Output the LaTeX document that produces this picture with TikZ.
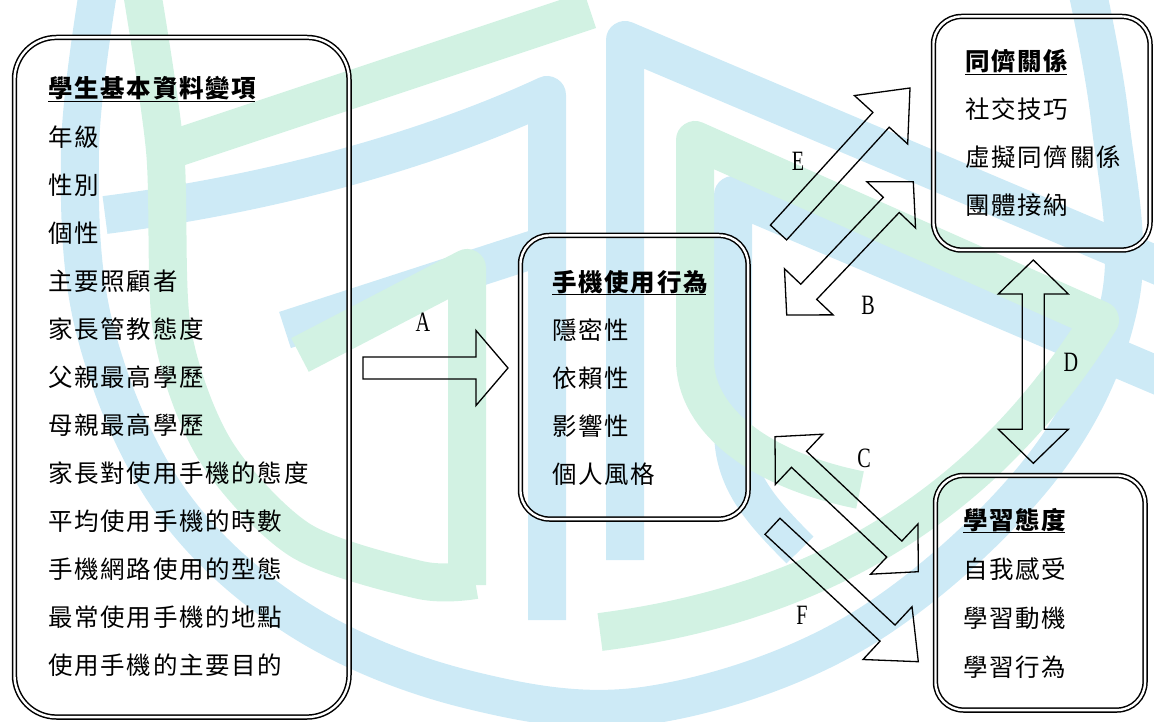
\documentclass[tikz,border=0pt]{standalone}
\usepackage{fontspec}
\usepackage{graphicx}
\newfontfamily\cjk{Noto Sans CJK TC}[LetterSpace=7]
\newfontfamily\lat{Liberation Serif}
\usetikzlibrary{calc}
\definecolor{wmcyan}{RGB}{205,234,246}
\definecolor{wmgreen}{RGB}{210,242,227}
\tikzset{BOX style/.style={draw,double,double distance=2.4pt,line width=1.5pt,inner sep=0pt,anchor=north west},
	ITEM style/.style={font=\cjk\fontsize{24.5}{24.5}\selectfont,inner sep=0pt,anchor=base west},
	HEAD style/.style={ITEM style,font=\cjk\bfseries\fontsize{24.5}{24.5}\selectfont},
	LBL style/.style={font=\lat\fontsize{28}{28}\selectfont,inner sep=0pt},
	ARR style/.style={draw,line width=1.3pt,line join=miter}}
\newcommand{\lbl}[1]{\scalebox{0.72}[1]{#1}}
\newcommand{\hd}[1]{\setbox0\hbox{#1}\rlap{\vrule height -2.6pt depth 4.4pt width \dimexpr\wd0-1.5pt\relax}\box0}
% block arrows: #1 tail, #2 tip, #3 half head width, #4 head length
\newcommand{\getdir}[2]{\path let \p1=($(#2)-(#1)$) in \pgfextra{\pgfmathsetmacro\arrang{atan2(\y1,\x1)}\pgfmathsetmacro\arrlen{veclen(\x1,\y1)}\global\let\arrang\arrang\global\let\arrlen\arrlen};}
\newcommand{\onearrow}[4]{\getdir{#1}{#2}
	\draw[ARR style,shift={(#1)},rotate=\arrang] (0pt,11pt) -- ({\arrlen pt-#4pt},11pt) -- ({\arrlen pt-#4pt},#3pt) -- (\arrlen pt,0pt)
	-- ({\arrlen pt-#4pt},-#3pt) -- ({\arrlen pt-#4pt},-11pt) -- (0pt,-11pt) -- cycle;}
\newcommand{\twoarrow}[4]{\getdir{#1}{#2}
	\draw[ARR style,shift={(#1)},rotate=\arrang] (0pt,0pt) -- (#4pt,#3pt) -- (#4pt,11pt) -- ({\arrlen pt-#4pt},11pt) -- ({\arrlen pt-#4pt},#3pt) -- (\arrlen pt,0pt)
	-- ({\arrlen pt-#4pt},-#3pt) -- ({\arrlen pt-#4pt},-11pt) -- (#4pt,-11pt) -- (#4pt,-#3pt) -- cycle;}

\begin{document}
\begin{tikzpicture}[x=1pt,y=-1pt]
	\useasboundingbox (0,0) rectangle (1154,722);
	% watermark
	\begin{scope}
		\clip (0,0) rectangle (1154,722);
		\begin{scope}[line width=38pt,line join=round]
			\draw[wmcyan] plot[smooth,tension=0.6] coordinates {(100,-20) (80,150) (95,330) (170,500) (300,620) (470,690) (650,705) (860,630) (1040,470) (1120,300) (1110,120) (1085,-20)};
			\draw[wmcyan] (105,215) .. controls (300,190) and (450,140) .. (547,95) -- (547,620);
			\draw[wmcyan] (285,330) -- (547,245);
			\draw[wmcyan] (625,560) -- (625,40) -- (1180,275);
			\draw[wmcyan] (1180,385) -- (733,195) -- (733,430) .. controls (733,480) and (760,510) .. (800,550);
			\draw[wmgreen] plot[smooth] coordinates {(140,-20) (165,150) (172,330) (215,450) (300,540) (420,580) (475,580)};
			\draw[wmgreen] (170,150) -- (590,10);
			\draw[wmgreen] (300,355) -- (467,268) -- (467,585);
			\draw[wmgreen] (600,632) .. controls (850,600) and (1000,480) .. (1100,320) -- (695,140) -- (695,360) .. controls (695,420) and (760,470) .. (860,490);
		\end{scope}
	\end{scope}

	\node[BOX style,minimum width=334.6pt,minimum height=679.6pt,rounded corners=42pt] (basic) at (13.7,36.7) {};
	\node[BOX style,minimum width=227.6pt,minimum height=283.6pt,rounded corners=29pt] (phone) at (519.7,234.7) {};
	\node[BOX style,minimum width=216.6pt,minimum height=233.6pt,rounded corners=28pt] (peer) at (932.7,15.7) {};
	\node[BOX style,minimum width=209.6pt,minimum height=234.6pt,rounded corners=28pt] (learn) at (934.7,474.7) {};

	\node[HEAD style] (basic-0) at (48,98) {\hd{學生基本資料變項}};
	\foreach \t [count=\i] in {年級,性別,個性,主要照顧者,家長管教態度,父親最高學歷,母親最高學歷,家長對使用手機的態度,平均使用手機的時數,手機網路使用的型態,最常使用手機的地點,使用手機的主要目的}
	\node[ITEM style] (basic-\i) at (48,{98+48.08*\i}) {\t};

	\node[HEAD style] (phone-0) at (552,291) {\hd{手機使用行為}};
	\foreach \t [count=\i] in {隱密性,依賴性,影響性,個人風格}
	\node[ITEM style] (phone-\i) at (552,{291+48*\i}) {\t};

	\node[HEAD style] (peer-0) at (965,71) {\hd{同儕關係}};
	\foreach \t [count=\i] in {社交技巧,虛擬同儕關係,團體接納}
	\node[ITEM style] (peer-\i) at (965,{71+48*\i}) {\t};

	\node[HEAD style] (learn-0) at (963,529) {\hd{學習態度}};
	\foreach \t [count=\i] in {自我感受,學習動機,學習行為}
	\node[ITEM style] (learn-\i) at (963,{529+49*\i}) {\t};

	\coordinate (aT) at (363,368);      \coordinate (aH) at (508,368);
	\coordinate (eT) at (778.5,232.5);  \coordinate (eH) at (910,88);
	\coordinate (fT) at (772.5,526.3);  \coordinate (fH) at (918.3,661.7);
	\coordinate (bP) at (913.3,181.7);  \coordinate (bM) at (786.7,315);
	\coordinate (cP) at (775,436.7);    \coordinate (cM) at (918.3,571.7);
	\coordinate (dP) at (1033.3,260);   \coordinate (dM) at (1033.3,463.3);

	\onearrow{aT}{aH}{37.5}{32}
	\onearrow{eT}{eH}{36}{43}
	\onearrow{fT}{fH}{36}{42}
	\twoarrow{bP}{bM}{33.5}{32}
	\twoarrow{cP}{cM}{34.5}{33}
	\twoarrow{dP}{dM}{35}{34}

	\node[LBL style] (labA) at (423,322) {\lbl{A}};
	\node[LBL style] (labB) at (868,305) {\lbl{B}};
	\node[LBL style] (labC) at (864,458) {\lbl{C}};
	\node[LBL style] (labD) at (1071,362) {\lbl{D}};
	\node[LBL style] (labE) at (798,161) {\lbl{E}};
	\node[LBL style] (labF) at (802,615) {\lbl{F}};
\end{tikzpicture}
\end{document}
